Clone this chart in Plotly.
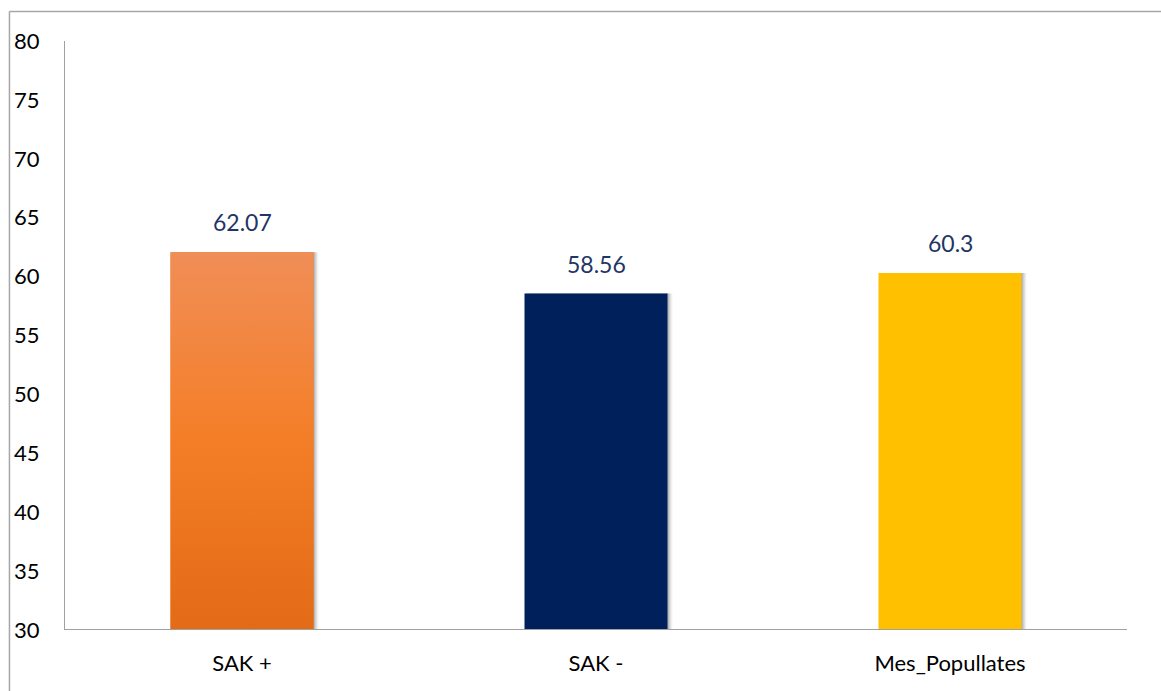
import plotly.graph_objects as go

# Chart data
categories = ["SAK +", "SAK -", "Mes_Popullates"]
values = [62.07, 58.56, 60.3]
value_labels = ["62.07", "58.56", "60.3"]
bar_colors = ["#F07F2B", "#00205B", "#FFC000"]
y_ticks = [30, 35, 40, 45, 50, 55, 60, 65, 70, 75, 80]

Y_MIN, Y_MAX = 30, 80
BAR_W = 0.404
FONT = "Lato"

x_pos = list(range(len(categories)))

fig = go.Figure()

# soft drop shadow behind the bars
for dx, alpha in [(0.014, 0.05), (0.010, 0.08), (0.006, 0.10), (0.003, 0.12)]:
    fig.add_trace(go.Bar(
        x=[x + dx for x in x_pos], y=[v - Y_MIN for v in values], base=Y_MIN,
        width=BAR_W, marker=dict(color=f"rgba(0,0,0,{alpha})", line=dict(width=0)),
        hoverinfo="skip", showlegend=False,
    ))

# main bars
fig.add_trace(go.Bar(
    x=x_pos, y=[v - Y_MIN for v in values], base=Y_MIN, width=BAR_W,
    marker=dict(color=bar_colors, line=dict(width=0)),
    showlegend=False,
))

# orange bar gets a vertical gradient fill
i0 = 0
x0, x1 = x_pos[i0] - BAR_W / 2, x_pos[i0] + BAR_W / 2
fig.add_trace(go.Scatter(
    x=[x0, x1, x1, x0, x0],
    y=[Y_MIN, Y_MIN, values[i0], values[i0], Y_MIN],
    mode="lines", line=dict(width=0), fill="toself",
    fillgradient=dict(
        type="vertical",
        colorscale=[[0, "#E36A17"], [0.5, "#F47E27"], [1, "#F08E57"]],
    ),
    hoverinfo="skip", showlegend=False,
))

# value labels above each bar
for x, v, t in zip(x_pos, values, value_labels):
    fig.add_annotation(
        x=x, y=v, text=t, showarrow=False, yanchor="bottom", yshift=14,
        font=dict(family=FONT, size=23, color="#1F3566"),
    )

# outer frame line (top and left)
fig.add_shape(type="line", xref="paper", yref="paper",
              x0=-0.0523, x1=1.05, y0=1.0501, y1=1.0501,
              line=dict(color="#A6A6A6", width=1.5))
fig.add_shape(type="line", xref="paper", yref="paper",
              x0=-0.0523, x1=-0.0523, y0=-0.15, y1=1.0501,
              line=dict(color="#A6A6A6", width=1.5))

fig.update_layout(
    width=1161, height=691,
    margin=dict(l=65, r=34, t=41, b=61),
    paper_bgcolor="white", plot_bgcolor="white",
    barmode="overlay",
    font=dict(family=FONT, size=22, color="black"),
    xaxis=dict(
        tickmode="array", tickvals=x_pos, ticktext=categories,
        range=[-0.5, 2.5], showgrid=False, zeroline=False,
        showline=False, ticks="", ticklabelstandoff=18,
        tickfont=dict(family=FONT, size=22, color="black"),
    ),
    yaxis=dict(
        range=[Y_MIN, Y_MAX], tickvals=y_ticks, showgrid=False, zeroline=False,
        showline=True, linecolor="#A0A0A0", linewidth=1, ticks="",
        ticklabelstandoff=20,
        tickfont=dict(family=FONT, size=22, color="black"),
    ),
)

# x axis baseline
fig.add_shape(type="line", xref="paper", yref="y",
              x0=0, x1=1, y0=Y_MIN, y1=Y_MIN,
              line=dict(color="#A0A0A0", width=2))

fig.write_html("out.html")
